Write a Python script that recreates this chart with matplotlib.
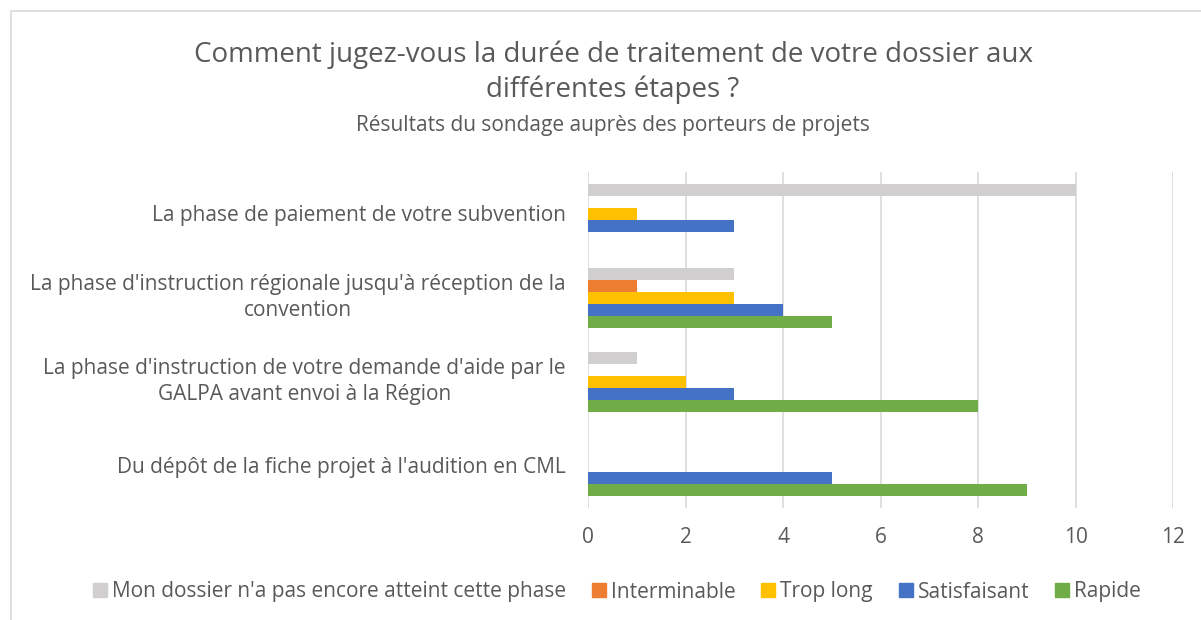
import matplotlib
matplotlib.use("Agg")
from matplotlib import pyplot as plt
from matplotlib.lines import Line2D
from matplotlib.patches import Rectangle
import numpy as np

plt.rcParams['font.family'] = ['Open Sans', 'DejaVu Sans']

categories = [
    "Du dépôt de la fiche projet à l'audition en CML",
    "La phase d'instruction de votre demande d'aide par le\nGALPA avant envoi à la Région",
    "La phase d'instruction régionale jusqu'à réception de la\nconvention",
    "La phase de paiement de votre subvention",
]
# bottom to top within each group
series_names = ["Rapide", "Satisfaisant", "Trop long", "Interminable",
                "Mon dossier n'a pas encore atteint cette phase"]
rapide = [9, 8, 5, 0]
satisfaisant = [5, 3, 4, 3]
trop_long = [0, 2, 3, 1]
interminable = [0, 0, 1, 0]
pas_atteint = [0, 1, 3, 10]
series = [rapide, satisfaisant, trop_long, interminable, pas_atteint]
colors = ["#70AD47", "#4472C4", "#FFC000", "#ED7D31", "#D0CECE"]

txt = "#595959"
fig = plt.figure(figsize=(12.01, 6.20), dpi=100)
ax = fig.add_axes([588 / 1201, 1 - 507.5 / 620, 585 / 1201, 336 / 620])

h = 12 / 84
y = np.arange(len(categories))
for i, (vals, c) in enumerate(zip(series, colors)):
    ax.barh(y + (i - 2) * h, vals, height=h, color=c, zorder=3)

ax.set_xlim(0, 12)
ax.set_ylim(-0.5, len(categories) - 0.5)
ax.set_xticks(range(0, 13, 2))
ax.set_yticks(y)
ax.set_yticklabels(categories, multialignment='center', linespacing=1.35)
for lbl in ax.get_yticklabels():
    if "\n" in lbl.get_text():
        lbl.set_va('center')
ax.tick_params(axis='both', length=0, labelsize=15, colors=txt)
ax.tick_params(axis='y', pad=16)
ax.tick_params(axis='x', pad=14)
ax.grid(axis='x', color="#D9D9D9", linewidth=1.2, zorder=0)
for s in ax.spines.values():
    s.set_visible(False)

fig.text(613 / 1201, 1 - 55 / 620,
         "Comment jugez-vous la durée de traitement de votre dossier aux",
         ha='center', va='center', fontsize=20, color=txt)
fig.text(613 / 1201, 1 - 90 / 620, "différentes étapes ?",
         ha='center', va='center', fontsize=20, color=txt)
fig.text(613 / 1201, 1 - 125 / 620,
         "Résultats du sondage auprès des porteurs de projets",
         ha='center', va='center', fontsize=15, color=txt)

handles = [Line2D([], [], marker='s', linestyle='none', markersize=9.4,
                  color=c) for c in colors[::-1]]
fig.legend(handles, series_names[::-1], loc='center',
           bbox_to_anchor=(617 / 1201, 1 - 592 / 620), ncol=5, frameon=False,
           fontsize=15, labelcolor=txt, handletextpad=0.25,
           columnspacing=1.25, handlelength=0.65)

fig.patches.append(Rectangle((11 / 1201, -0.1), 1204 / 1201, 1.1 - 11 / 620,
                             transform=fig.transFigure, fill=False,
                             edgecolor="#D9D9D9", linewidth=1.2))

fig.savefig("out.png", dpi=100)
